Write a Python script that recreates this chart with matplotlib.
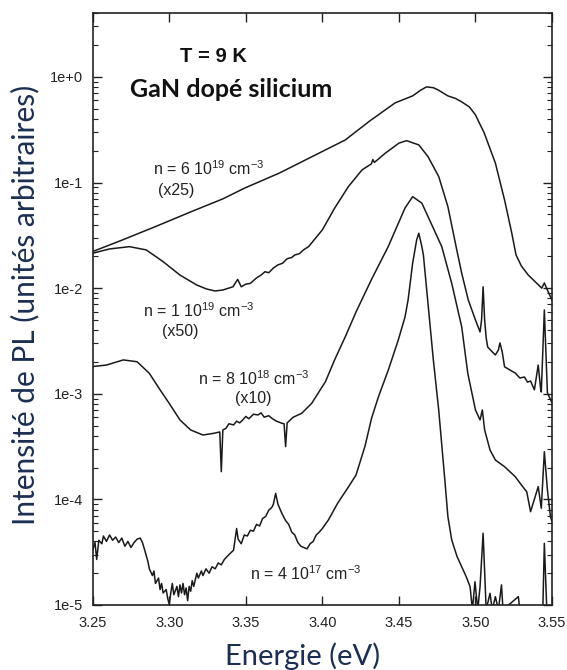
import numpy as np
import matplotlib
matplotlib.use("Agg")
import matplotlib.pyplot as plt
from matplotlib.ticker import FixedLocator, FixedFormatter, LogLocator, NullFormatter

plt.rcParams['mathtext.fontset'] = 'custom'
plt.rcParams['mathtext.rm'] = 'Liberation Sans'
plt.rcParams['mathtext.it'] = 'Liberation Sans:italic'
plt.rcParams['mathtext.bf'] = 'Liberation Sans:bold'

# ---------------- data ----------------
# n = 6e19 cm-3 (x25)
E1 = [3.250, 3.270, 3.292, 3.314, 3.335, 3.3495, 3.372, 3.393, 3.415, 3.431, 3.4475,
      3.459, 3.464, 3.468, 3.4725, 3.4756, 3.482, 3.487, 3.491, 3.496, 3.500, 3.5057, 3.513, 3.519, 3.5237, 3.5265,
      3.530, 3.5345, 3.539, 3.5433, 3.545, 3.547, 3.550]
I1 = [0.0222, 0.0288, 0.0388, 0.0527, 0.0700, 0.0889, 0.123, 0.175, 0.253, 0.383, 0.567,
      0.661, 0.745, 0.804, 0.790, 0.753, 0.661, 0.625, 0.580, 0.520, 0.437, 0.295, 0.153, 0.0685, 0.0333, 0.0206,
      0.0162, 0.0133, 0.0115, 0.0100, 0.0112, 0.0096, 0.0077]

# n = 1e19 cm-3 (x50)
E2 = [3.250, 3.261, 3.274, 3.285, 3.296, 3.307, 3.318, 3.3245, 3.330, 3.335, 3.3416,
      3.3447, 3.347, 3.350, 3.353, 3.357, 3.360, 3.3625, 3.365, 3.368, 3.371, 3.374,
      3.377, 3.380, 3.382, 3.385, 3.388, 3.391, 3.400, 3.408, 3.417, 3.426,
      3.432, 3.433, 3.434, 3.441, 3.450, 3.455, 3.463, 3.469, 3.476, 3.482, 3.4878,
      3.491, 3.4953, 3.500, 3.503, 3.504, 3.505, 3.506, 3.507, 3.508, 3.511, 3.513,
      3.515, 3.516, 3.5175, 3.519, 3.5225, 3.526, 3.529, 3.532, 3.534, 3.536, 3.5385,
      3.541, 3.5425, 3.543, 3.545, 3.547, 3.550]
I2 = [0.0214, 0.0235, 0.0247, 0.0230, 0.0178, 0.0133, 0.0107, 0.0098, 0.0094, 0.0096, 0.0103,
      0.0121, 0.0103, 0.0109, 0.0111, 0.0125, 0.0133, 0.0143, 0.0140, 0.0155, 0.0166, 0.0172,
      0.0190, 0.0195, 0.0206, 0.0212, 0.0232, 0.0247, 0.0356, 0.0571, 0.0915, 0.132,
      0.150, 0.165, 0.155, 0.189, 0.236, 0.249, 0.227, 0.176, 0.114, 0.0591, 0.0230,
      0.0139, 0.00773, 0.00500, 0.00385, 0.0050, 0.0103, 0.0050, 0.00338, 0.00277, 0.00249, 0.00233,
      0.00260, 0.00303, 0.00249, 0.00180, 0.00168, 0.00157, 0.00141, 0.00144, 0.00129, 0.00132, 0.00109,
      0.00187, 0.00114, 0.00104, 0.00622, 0.00102, 0.00082]

# n = 8e18 cm-3 (x10)
E3 = [3.250, 3.259, 3.270, 3.279, 3.287, 3.294, 3.300, 3.307, 3.314, 3.322, 3.329,
      3.333, 3.334, 3.335, 3.337, 3.339, 3.342, 3.344, 3.346, 3.348, 3.350, 3.352,
      3.355, 3.358, 3.360, 3.362, 3.365, 3.367, 3.370, 3.3735, 3.375,
      3.376, 3.377, 3.381, 3.3865, 3.393, 3.402, 3.408, 3.415, 3.422, 3.432, 3.443,
      3.454, 3.459, 3.465, 3.471, 3.478, 3.4845, 3.491, 3.495, 3.500, 3.503, 3.5045,
      3.506, 3.5095, 3.513, 3.519, 3.526, 3.530, 3.5335, 3.536, 3.539, 3.541, 3.543,
      3.545, 3.547, 3.549, 3.550]
I3 = [0.00181, 0.00187, 0.00209, 0.00201, 0.00156, 0.00109, 0.00081, 0.000565, 0.000454, 0.000407, 0.000422,
      0.000435, 0.000183, 0.000454, 0.00047, 0.00052, 0.000507, 0.00055, 0.00053, 0.000565, 0.00061, 0.00058,
      0.00064, 0.00063, 0.00066, 0.00060, 0.00062, 0.000586, 0.00055, 0.000526, 0.00052,
      0.000316, 0.00053, 0.00060, 0.000653, 0.00081, 0.00130, 0.00209, 0.00347, 0.00595, 0.0120, 0.0247,
      0.0574, 0.0735, 0.0637, 0.0412, 0.0247, 0.0111, 0.00432, 0.00156, 0.000703, 0.000565, 0.000703,
      0.000454, 0.000294, 0.000236, 0.000204, 0.000164, 0.000137, 0.000118, 0.0000765, 0.000106, 0.000132, 0.0000824,
      0.000283, 0.000123, 0.0000686, 0.0000615]

# n = 4e17 cm-3
E4 = [3.250, 3.2515, 3.2526, 3.254, 3.256, 3.257, 3.259, 3.261, 3.263, 3.265, 3.267,
      3.269, 3.271, 3.273, 3.275, 3.277, 3.279, 3.281, 3.2825, 3.284, 3.286, 3.287,
      3.289, 3.290, 3.291, 3.293, 3.294, 3.295, 3.296, 3.298, 3.299, 3.300, 3.301,
      3.302, 3.303, 3.305, 3.306, 3.307, 3.308, 3.309, 3.310, 3.311, 3.312, 3.313,
      3.314, 3.315, 3.316, 3.318, 3.319, 3.321, 3.322, 3.324, 3.326, 3.328, 3.330,
      3.332, 3.334, 3.336, 3.338, 3.340, 3.342, 3.344, 3.345, 3.347, 3.349, 3.351,
      3.353, 3.355, 3.357, 3.359, 3.361, 3.363, 3.365, 3.367, 3.368, 3.3695, 3.371,
      3.3735, 3.376, 3.378, 3.380, 3.382, 3.384, 3.386, 3.388, 3.390, 3.392, 3.394,
      3.396, 3.398, 3.400, 3.404, 3.410, 3.417, 3.422, 3.4279, 3.4322, 3.4366, 3.4431,
      3.4496, 3.454, 3.456, 3.459, 3.4616, 3.463, 3.465, 3.466, 3.469, 3.4725, 3.476,
      3.478, 3.480, 3.482, 3.4845, 3.488, 3.491, 3.494, 3.4965, 3.498, 3.4997, 3.5015,
      3.503, 3.505, 3.507, 3.5095, 3.511, 3.513, 3.515, 3.517, 3.518, 3.528, 3.529,
      3.544, 3.545, 3.5466, 3.550]
I4 = [3.3e-5, 3.9e-5, 2.7e-5, 4.1e-5, 3.8e-5, 4.5e-5, 4.0e-5, 4.6e-5, 4.1e-5, 4.4e-5, 3.9e-5,
      4.3e-5, 3.6e-5, 4.0e-5, 3.5e-5, 3.9e-5, 4.2e-5, 4.3e-5, 3.9e-5, 3.3e-5, 2.6e-5, 2.2e-5,
      1.9e-5, 2.1e-5, 1.6e-5, 1.8e-5, 1.4e-5, 1.6e-5, 1.3e-5, 1.4e-5, 1.15e-5, 1.02e-5, 1.3e-5,
      1.6e-5, 1.25e-5, 1.5e-5, 1.2e-5, 1.55e-5, 1.3e-5, 1.6e-5, 1.25e-5, 1.45e-5, 1.1e-5, 1.5e-5,
      1.35e-5, 1.7e-5, 1.5e-5, 2.0e-5, 1.8e-5, 2.1e-5, 1.9e-5, 2.2e-5, 2.0e-5, 2.3e-5, 2.2e-5,
      2.5e-5, 2.4e-5, 2.7e-5, 2.9e-5, 3.1e-5, 3.3e-5, 5.3e-5, 4.2e-5, 3.8e-5, 4.6e-5, 4.5e-5,
      5.1e-5, 5.0e-5, 5.8e-5, 5.6e-5, 6.6e-5, 6.9e-5, 7.9e-5, 8.4e-5, 9.0e-5, 1.14e-4, 9.0e-5,
      7.4e-5, 6.3e-5, 5.8e-5, 4.9e-5, 4.6e-5, 3.9e-5, 3.6e-5, 3.5e-5, 3.4e-5, 3.8e-5, 4.0e-5,
      4.6e-5, 4.9e-5, 5.3e-5, 6.4e-5, 9.2e-5, 1.31e-4, 1.70e-4, 3.21e-4, 5.90e-4, 9.33e-4, 1.68e-3,
      3.23e-3, 5.34e-3, 7.73e-3, 1.73e-2, 2.86e-2, 3.31e-2, 2.47e-2, 2.06e-2, 7.19e-3, 2.09e-3, 7.03e-4,
      3.27e-4, 1.53e-4, 6.86e-5, 4.13e-5, 2.87e-5, 2.31e-5, 1.85e-5, 1.49e-5, 9e-6, 1.66e-5, 9e-6,
      1.49e-5, 4.78e-5, 9e-6, 1.29e-5, 9e-6, 1.20e-5, 9e-6, 1.55e-5, 9e-6, 1.2e-5, 9e-6,
      9e-6, 3.84e-5, 9e-6, 9e-6]

x_ticks = [3.25, 3.30, 3.35, 3.40, 3.45, 3.50, 3.55]
x_tick_labels = ["3.25", "3.30", "3.35", "3.40", "3.45", "3.50", "3.55"]
y_ticks = [1e0, 1e-1, 1e-2, 1e-3, 1e-4, 1e-5]
y_tick_labels = ["1e+0", "1e-1", "1e-2", "1e-3", "1e-4", "1e-5"]

# ---------------- figure ----------------
fig = plt.figure(figsize=(5.67, 6.70), dpi=100)
ax = fig.add_axes([92.7 / 567, 1 - 605 / 670, (552 - 92.7) / 567, (605 - 13.3) / 670])

lc = '#1a1a1a'
for E, I in [(E1, I1), (E2, I2), (E3, I3), (E4, I4)]:
    ax.plot(E, I, color=lc, lw=1.1, solid_joinstyle='round')

ax.set_yscale('log')
ax.set_xlim(3.25, 3.55)
ax.set_ylim(1e-5, 4.0)

ax.xaxis.set_major_locator(FixedLocator(x_ticks))
ax.xaxis.set_major_formatter(FixedFormatter(x_tick_labels))
ax.yaxis.set_major_locator(FixedLocator(y_ticks))
ax.yaxis.set_major_formatter(FixedFormatter(y_tick_labels))
ax.yaxis.set_minor_locator(LogLocator(base=10, subs=np.arange(2, 10), numticks=20))
ax.yaxis.set_minor_formatter(NullFormatter())

ax.tick_params(axis='both', which='major', direction='in', length=6.5, width=1.0,
               top=True, right=True, colors='#222222', labelcolor='#222222',
               labelsize=10.5)
ax.tick_params(axis='x', which='major', pad=8)
ax.tick_params(axis='y', which='major', pad=7)
ax.tick_params(axis='y', which='minor', direction='in', length=3.5, width=0.8,
               left=True, right=True, colors='#222222')
for lab in ax.get_xticklabels() + ax.get_yticklabels():
    lab.set_fontfamily('Liberation Sans')
for s in ax.spines.values():
    s.set_linewidth(1.2)
    s.set_color('#222222')

# ---------------- texts ----------------
ax.text(3.3286, 1.55, 'T = 9 K', ha='center', va='center', fontsize=14.5,
        fontweight='bold', family='Liberation Sans', color='#111111')
ax.text(3.3403, 0.753, 'GaN dopé silicium', ha='center', va='center', fontsize=18,
        fontweight='bold', family='Lato', color='#111111')

ann_font = dict(fontsize=11.5, family='Liberation Sans', color='#222222', va='baseline', ha='left')
ax.text(3.2894, 0.118, r'n = 6 10$^{19}$ cm$^{-3}$', **ann_font)
ax.text(3.2927, 0.0763, '(x25)', **ann_font)
ax.text(3.2831, 0.00534, r'n = 1 10$^{19}$ cm$^{-3}$', **ann_font)
ax.text(3.2951, 0.00353, '(x50)', **ann_font)
ax.text(3.3188, 0.00121, r'n = 8 10$^{18}$ cm$^{-3}$', **ann_font)
ax.text(3.3430, 0.000818, '(x10)', **ann_font)
ax.text(3.3528, 1.73e-5, r'n = 4 10$^{17}$ cm$^{-3}$', **ann_font)

lab_col = '#1c2f52'
fig.text(303 / 567, 1 - 656 / 670, 'Energie (eV)', ha='center', va='center',
         fontsize=21, family='Lato', color=lab_col)
fig.text(25 / 567, 1 - 305 / 670, 'Intensité de PL (unités arbitraires)', ha='center',
         va='center', rotation=90, fontsize=21.5, family='Lato', color=lab_col)

fig.savefig('out.png', dpi=100)
